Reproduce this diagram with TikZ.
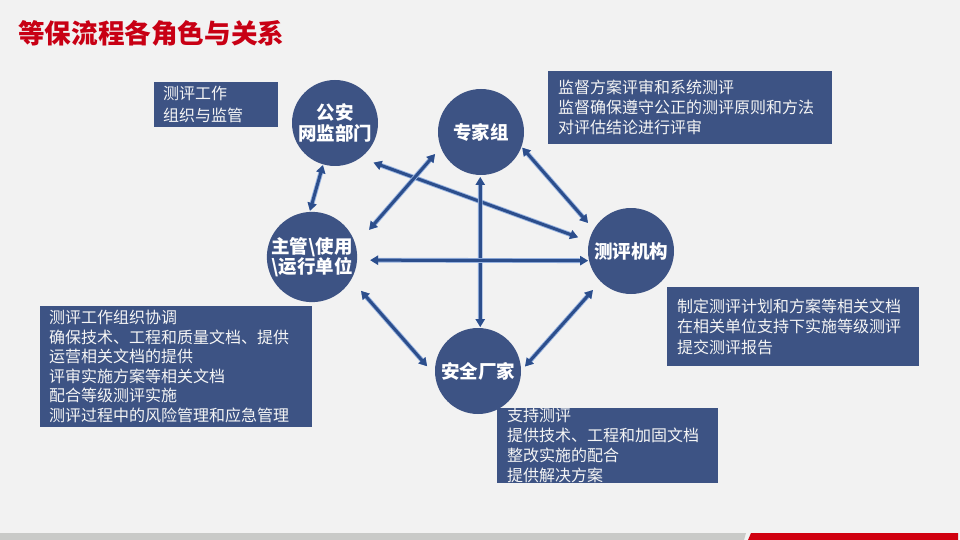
\documentclass[tikz,border=0pt]{standalone}
\usepackage{fontspec}
\setmainfont{Noto Sans CJK SC}
\usetikzlibrary{arrows.meta}
\definecolor{bgc}{RGB}{242,242,242}
\definecolor{titlered}{RGB}{200,0,20}
\definecolor{nodeblue}{RGB}{61,83,132}
\definecolor{arrdark}{RGB}{44,78,140}
\definecolor{arrlight}{RGB}{150,178,224}
\definecolor{bargray}{RGB}{201,202,200}
\definecolor{barred}{RGB}{208,0,15}
\definecolor{txtwhite}{RGB}{245,245,245}
\tikzset{
  role/.style={circle, fill=nodeblue, minimum size=86pt, inner sep=0pt, outer sep=0pt,
    text=white, align=center, font=\fontsize{18.5}{20.5}\selectfont\bfseries},
  infobox/.style={rectangle, fill=nodeblue, anchor=north west, align=left, inner ysep=0pt,
    text=txtwhite, font=\fontsize{16}{20}\selectfont},
  conn/.style={draw=arrdark, line width=3pt, {Triangle[length=8pt,width=9pt]}-{Triangle[length=8pt,width=9pt]},
    preaction={draw=arrlight, line width=4.8pt}}
}
\begin{document}
\begin{tikzpicture}[x=1pt,y=-1pt]
\fill[bgc] (0,0) rectangle (960,540);
\useasboundingbox (0,0) rectangle (960,540);

% title
\node[anchor=west, inner sep=0pt, text=titlered, font=\fontsize{26.6}{30}\selectfont\bfseries] (title) at (18,33) {等保流程各角色与关系};

% bottom bar
\fill[bargray] (0,533) -- (746,533) -- (744,540) -- (0,540) -- cycle;
\fill[barred] (751,533) -- (958,533) -- (958,540) -- (748,540) -- cycle;

% info boxes
\node[infobox, inner xsep=9pt, text width=106pt, minimum height=45pt, font=\fontsize{16}{22}\selectfont] (b1) at (154,82) {测评工作\\组织与监管};
\node[infobox, inner xsep=10pt, text width=264pt, minimum height=73pt] (b2) at (548,71) {监督方案评审和系统测评\\监督确保遵守公正的测评原则和方法\\对评估结论进行评审};
\node[infobox, inner xsep=9pt, text width=254pt, minimum height=121pt, font=\fontsize{16}{19.5}\selectfont] (b3) at (40,306) {测评工作组织协调\\确保技术、工程和质量文档、提供\\运营相关文档的提供\\评审实施方案等相关文档\\配合等级测评实施\\测评过程中的风险管理和应急管理};
\node[infobox, inner xsep=10pt, text width=201pt, minimum height=74pt] (b4) at (497,408) {支持测评\\提供技术、工程和加固文档\\整改实施的配合\\提供解决方案};
\node[infobox, inner xsep=10pt, text width=232pt, minimum height=79pt, font=\fontsize{16}{20.5}\selectfont] (b5) at (667,287) {制定测评计划和方案等相关文档\\在相关单位支持下实施等级测评\\提交测评报告};

% role circles
\node[role] (ga) at (335,123) {公安\\网监部门};
\node[role] (zj) at (481,132) {专家组};
\node[role] (zg) at (312,257) {主管\textbackslash 使用\\\textbackslash 运行单位};
\node[role] (cp) at (631,251) {测评机构};
\node[role] (aq) at (478,371) {安全厂家};

% connectors
\draw[conn, shorten <=0.7pt, shorten >=1.1pt] (ga.-106) -- (zg.93);
\draw[conn, shorten <=14.1pt, shorten >=11.7pt] (ga.-54.8) -- (cp.167.9);
\draw[conn, shorten <=8.8pt, shorten >=20.5pt] (zj.-159) -- (zg.15.9);
\draw[conn, shorten <=1.2pt, shorten >=8.7pt] (zj.-20.6) -- (cp.150);
\draw[conn, shorten <=2pt, shorten >=1pt] (zj.-91.3) -- (aq.87.3);
\draw[conn, shorten <=13.1pt, shorten >=1pt] (zg.-4) -- (cp.-167.9);
\draw[conn, shorten <=15pt, shorten >=12.3pt] (zg.-30.6) -- (aq.-174.4);
\draw[conn, shorten <=11.5pt, shorten >=6pt] (cp.-135) -- (aq.-0.7);
\end{tikzpicture}
\end{document}
